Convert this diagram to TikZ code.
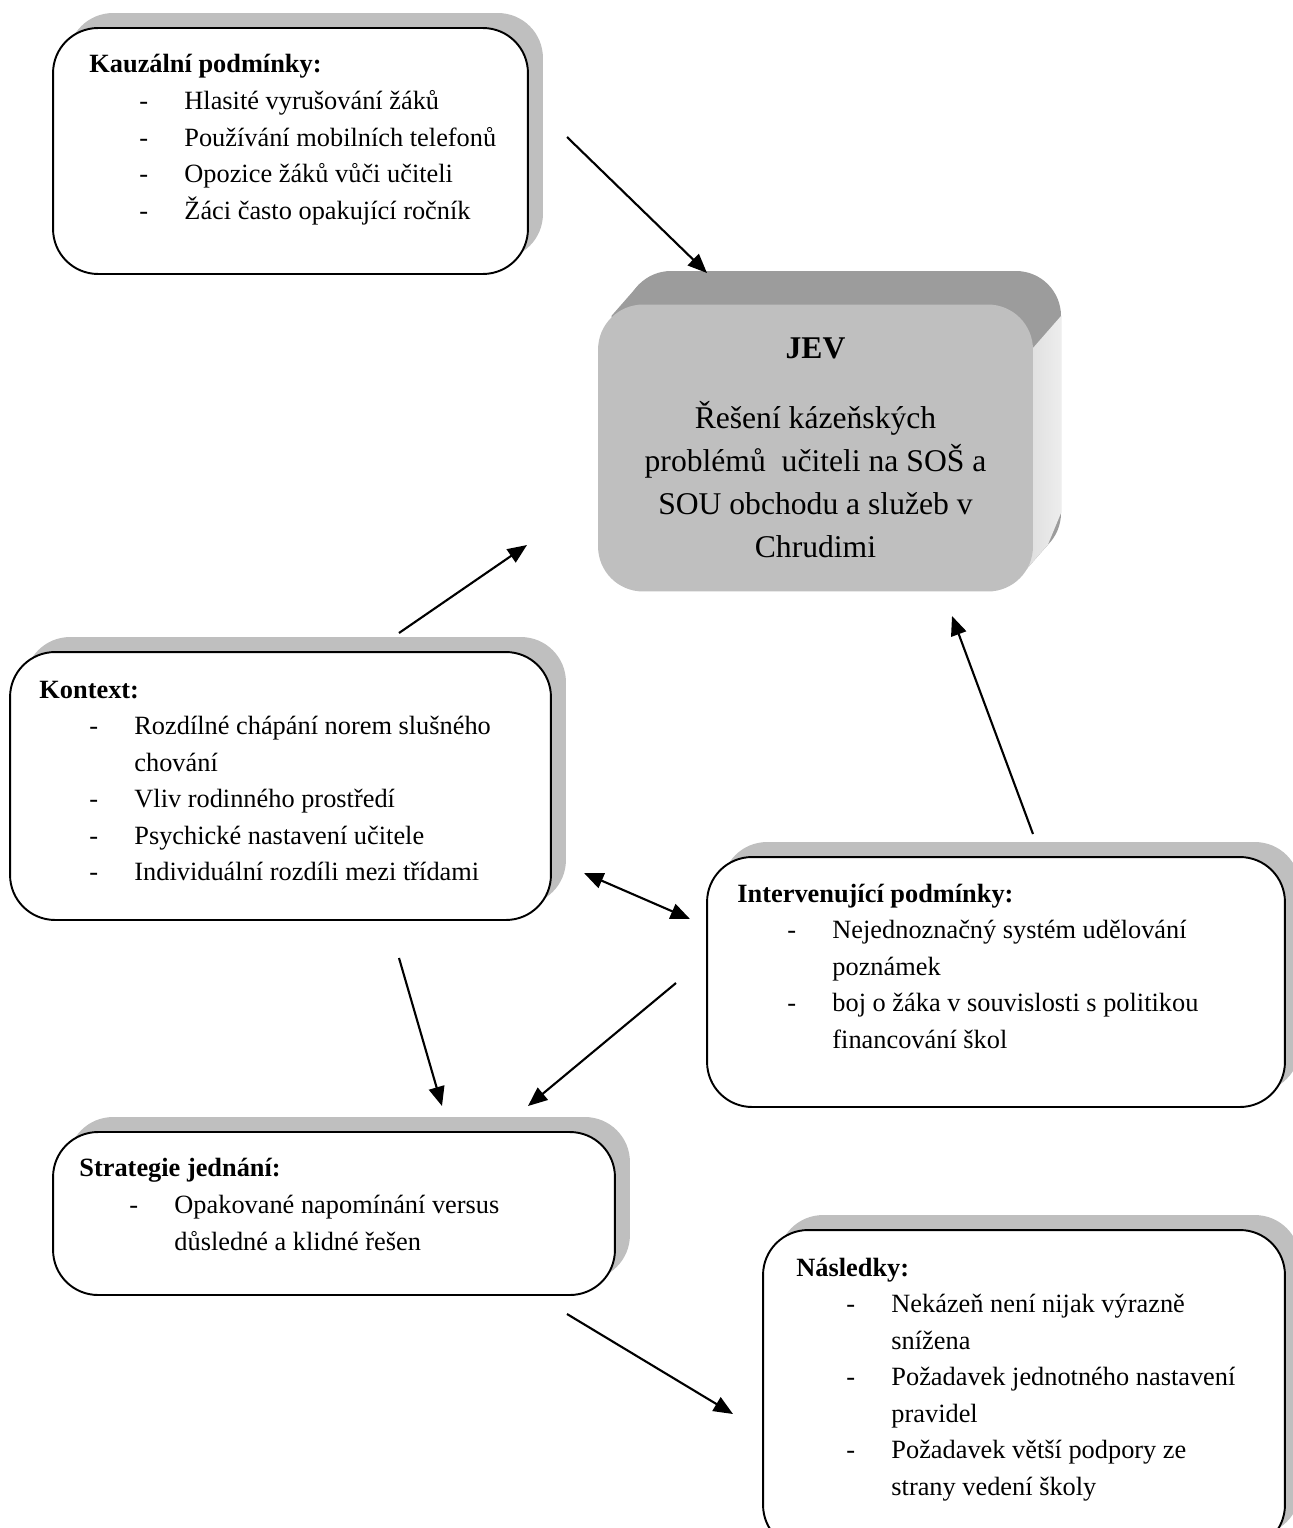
\documentclass[tikz,border=0pt]{standalone}
\usepackage{fontspec}
\setmainfont{Liberation Serif}
\usetikzlibrary{arrows.meta,shadows,positioning}

\newcommand{\dashitem}{\hspace*{1cm}\makebox[0.9cm][l]{-}}
\newcommand{\moreline}{\hspace*{1.9cm}}

\tikzset{
  infobox/.style={draw, line width=1.1pt, rounded corners=0.9cm, fill=white,
    general shadow={fill=gray!50, shadow xshift=0.3cm, shadow yshift=0.3cm}},
  infotext/.style={anchor=north west, inner sep=0pt, align=left,
    font=\fontsize{15}{20.8}\selectfont},
  jevface/.style={fill=gray!50, rounded corners=0.9cm, align=center, inner sep=0pt,
    font=\fontsize{18}{24.5}\selectfont},
  link/.style={line width=1.2pt}
}

\begin{document}
\begin{tikzpicture}[x=0.02cm, y=-0.02cm, >={Triangle[length=11pt,width=9pt]}]
  \useasboundingbox (0,0) rectangle (1293,1528);
  % JEV -- plasticky blok
  \fill[gray!78, rounded corners=0.9cm] (626,271) rectangle (1061,558);
  \fill[gray!78] (611.2,316.2) -- (639.2,284.2) -- (1047.8,544.8) -- (1019.8,576.8) -- cycle;
  \shade[left color=gray!35, right color=gray!14] (1000,348) -- (1033,348) -- (1061,316)
    -- (1061,513) -- (1047.8,544.8) -- (1019.8,576.8) -- (1000,560) -- cycle;
  \node[jevface, minimum width=8.7cm, minimum height=5.74cm] (jev) at (815.5,448)
    {\textbf{JEV}\\[15pt] Řešení kázeňských\\ problémů~ učiteli na SOŠ a\\
     SOU obchodu a služeb v\\ Chrudimi};
  % Kauzalni podminky
  \node[infobox, minimum width=9.5cm, minimum height=4.92cm] (kauz) at (290.5,151) {};
  \node[infotext] (kauz-t) at ([shift={(37,20)}]kauz.north west)
    {\strut\textbf{Kauzální podmínky:}\\
     \dashitem Hlasité vyrušování žáků\\
     \dashitem Používání mobilních telefonů\\
     \dashitem Opozice žáků vůči učiteli\\
     \dashitem Žáci často opakující ročník};
  % Kontext
  \node[infobox, minimum width=10.82cm, minimum height=5.36cm] (kont) at (280.5,786) {};
  \node[infotext] (kont-t) at ([shift={(30,21)}]kont.north west)
    {\strut\textbf{Kontext:}\\
     \dashitem Rozdílné chápání norem slušného\\
     \moreline chování\\
     \dashitem Vliv rodinného prostředí\\
     \dashitem Psychické nastavení učitele\\
     \dashitem Individuální rozdíli mezi třídami};
  % Intervenujici podminky
  \node[infobox, minimum width=11.56cm, minimum height=5cm] (interv) at (996,982) {};
  \node[infotext] (interv-t) at ([shift={(31,20)}]interv.north west)
    {\strut\textbf{Intervenující podmínky:}\\
     \dashitem Nejednoznačný systém udělování\\
     \moreline poznámek\\
     \dashitem boj o žáka v souvislosti s politikou\\
     \moreline financování škol};
  % Strategie jednani
  \node[infobox, minimum width=11.24cm, minimum height=3.26cm] (strat) at (334,1213.5) {};
  \node[infotext] (strat-t) at ([shift={(27,20)}]strat.north west)
    {\strut\textbf{Strategie jednání:}\\
     \dashitem Opakované napomínání versus\\
     \moreline důsledné a klidné řešen};
  % Nasledky
  \node[infobox, minimum width=10.44cm, minimum height=6.4cm] (nasl) at (1024,1390) {};
  \node[infotext] (nasl-t) at ([shift={(34,21)}]nasl.north west)
    {\strut\textbf{Následky:}\\
     \dashitem Nekázeň není nijak výrazně\\
     \moreline snížena\\
     \dashitem Požadavek jednotného nastavení\\
     \moreline pravidel\\
     \dashitem Požadavek větší podpory ze\\
     \moreline strany vedení školy};
  % Konce sipek
  \coordinate (kauz-out) at (567,137);
  \coordinate (jev-top) at (707,273);
  \coordinate (kont-up) at (399,633);
  \coordinate (jev-left) at (527,545);
  \coordinate (interv-up) at (1033,834);
  \coordinate (jev-low) at (952,616);
  \coordinate (kont-side) at (584,873);
  \coordinate (interv-side) at (690,919);
  \coordinate (kont-down) at (399,958);
  \coordinate (strat-in1) at (442,1106);
  \coordinate (interv-down) at (676,983);
  \coordinate (strat-in2) at (528,1106);
  \coordinate (strat-out) at (567,1314);
  \coordinate (nasl-in) at (733,1414);
  % Sipky
  \draw[link, ->] (kauz-out) -- (jev-top);
  \draw[link, ->] (kont-up) -- (jev-left);
  \draw[link, ->] (interv-up) -- (jev-low);
  \draw[link, <->] (kont-side) -- (interv-side);
  \draw[link, ->] (kont-down) -- (strat-in1);
  \draw[link, ->] (interv-down) -- (strat-in2);
  \draw[link, ->] (strat-out) -- (nasl-in);
\end{tikzpicture}
\end{document}
